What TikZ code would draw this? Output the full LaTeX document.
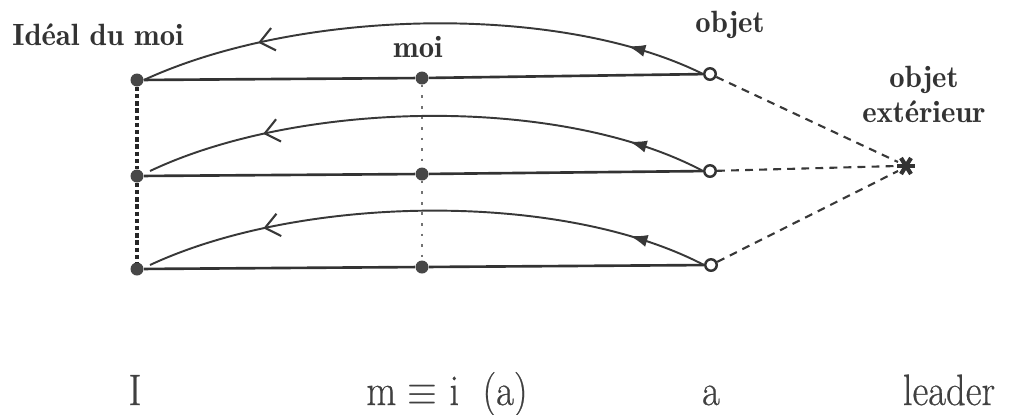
\documentclass[tikz,border=0pt]{standalone}
\usepackage{fontspec}
\newfontfamily\lblfont{Latin Modern Roman Demi}
\newfontfamily\bigfont[FakeBold=0.6]{Latin Modern Roman}
\usetikzlibrary{arrows.meta,decorations.markings,calc}
\begin{document}
\begin{tikzpicture}[x=0.02cm,y=-0.02cm,
  fdot/.style={circle,fill=black!72,inner sep=0pt,minimum size=0.26cm},
  odot/.style={circle,draw=black!80,fill=white,line width=1.4pt,inner sep=0pt,minimum size=0.23cm},
  hline/.style={draw=black!80,line width=1.5pt},
  arc/.style={draw=black!78,line width=1.1pt,postaction={decorate},
    decoration={markings,
      mark=at position 0.14 with {\arrow{Latex[length=10pt,width=7pt]}},
      mark=at position 0.79 with {\arrow{Straight Barb[length=8pt,width=13pt,line width=1.2pt]}}}},
  lbl/.style={font=\lblfont\fontsize{17.5}{20}\selectfont,inner sep=0pt,text=black!80},
  big/.style={font=\bigfont\fontsize{25}{28}\selectfont,inner sep=0pt,text=black!75,anchor=base},
  toext/.style={draw=black!78,line width=1.2pt,dash pattern=on 4.5pt off 3.5pt},
  ideal/.style={draw=black!85,line width=2.2pt,dash pattern=on 2.5pt off 1.6pt},
  moiline/.style={draw=black!55,line width=0.9pt,dash pattern=on 1.5pt off 4.5pt}
]
\useasboundingbox (0,0) rectangle (1015,414);
% dots
\node[fdot] (L1) at (137,80) {};
\node[fdot] (L2) at (137,176) {};
\node[fdot] (L3) at (137,269) {};
\node[fdot] (M1) at (422,78) {};
\node[fdot] (M2) at (422,174) {};
\node[fdot] (M3) at (422,267) {};
\node[odot] (R1) at (710,74) {};
\node[odot] (R2) at (710,171) {};
\node[odot] (R3) at (711,265) {};
% external object (asterisk)
\coordinate (E) at (906,166);
\draw[black!80,line width=2.4pt] ($(E)+(-9,0)$) -- ($(E)+(9,0)$);
\draw[black!80,line width=2.4pt] ($(E)+(-5,-8)$) -- ($(E)+(5,8)$);
\draw[black!80,line width=2.4pt] ($(E)+(5,-8)$) -- ($(E)+(-5,8)$);
% vertical links
\draw[ideal] (L1) -- (L2) -- (L3);
\draw[moiline] (M1) -- (M2) -- (M3);
% horizontal lines
\path[hline] (L1) -- (M1) -- (R1);
\path[hline] (L2) -- (M2) -- (R2);
\path[hline] (L3) -- (M3) -- (R3);
% arcs
\path[arc] (R1.west) .. controls (560,3) and (300,8) .. (L1.east);
\path[arc] (R2.west) .. controls (560,95) and (300,100) .. (150,171);
\path[arc] (R3.west) .. controls (560,190) and (300,195) .. (150,265);
% dashed lines to external object
\path[toext] (R1) -- ($(E)+(-8,-4)$);
\path[toext] (R2) -- ($(E)+(-9,0)$);
\path[toext] (R3) -- ($(E)+(-8,5)$);
% labels
\node[lbl,anchor=base] (tIdeal) at (98,45) {Idéal du moi};
\node[lbl,anchor=base] (tMoi) at (418,57) {moi};
\node[lbl,anchor=base] (tObj) at (730,32) {objet};
\node[lbl,anchor=north,align=center] (tExt) at (924,66) {objet\\extérieur};
% bottom row
\node[big] (bI) at (135,405) {\scalebox{0.88}[1]{I}};
\node[big] (bM) at (447,405) {\scalebox{0.88}[1]{m $\equiv$ i~~(a)}};
\node[big] (bA) at (711,405) {\scalebox{0.88}[1]{a}};
\node[big] (bL) at (949,405) {\scalebox{0.88}[1]{leader}};
\end{tikzpicture}
\end{document}
